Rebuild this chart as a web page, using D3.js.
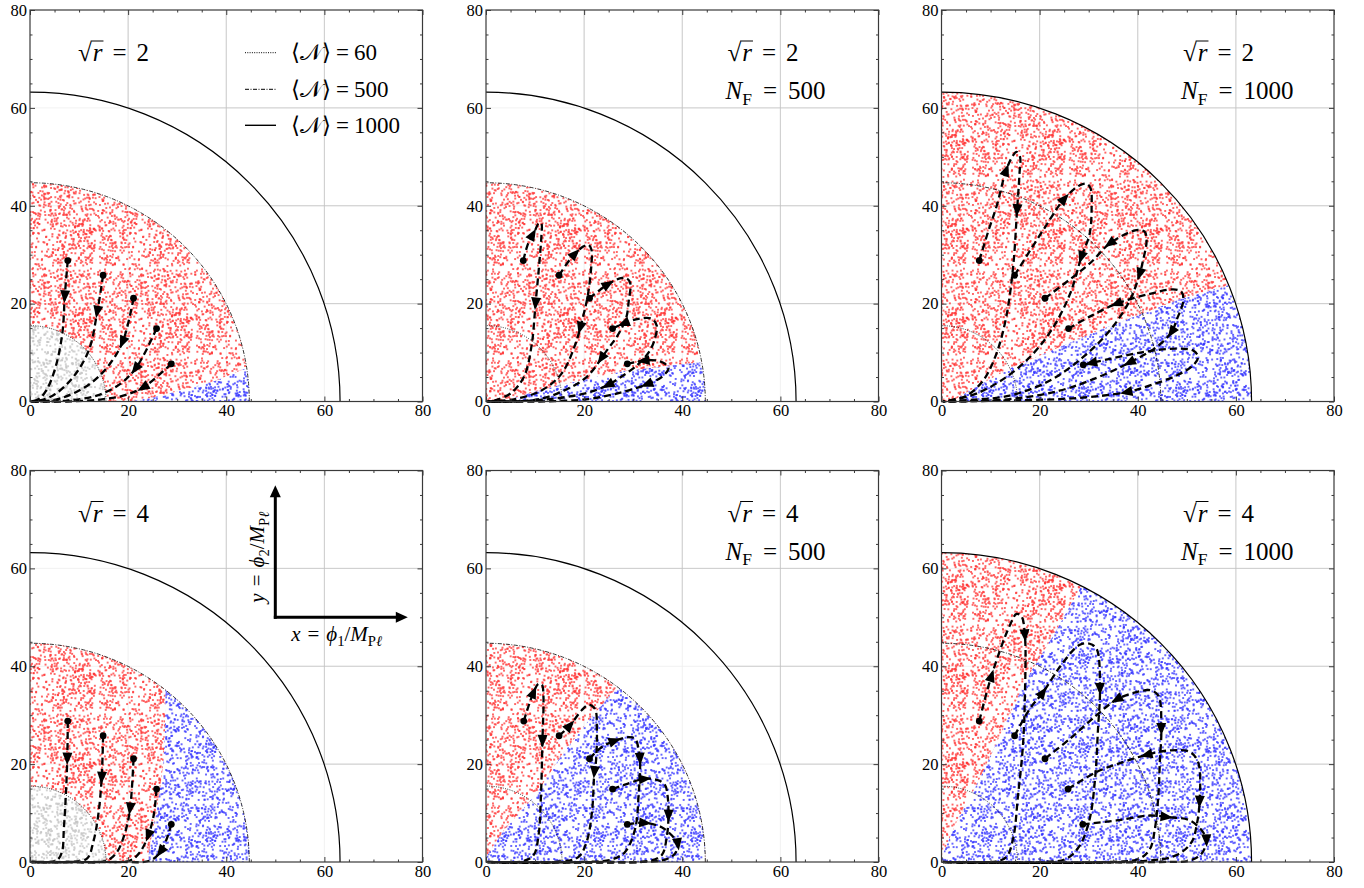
<!DOCTYPE html>
<html>
<head>
<meta charset="utf-8">
<script src="https://cdn.jsdelivr.net/npm/d3@7"></script>
<style>
  body { margin: 0; background: #fff; }
  svg text { font-family: "Liberation Serif", "Times New Roman", "DejaVu Serif", serif; }
</style>
</head>
<body>
<svg id="chart" width="1364" height="888"></svg>
<script>
// axis ticks
const ticksMajor = [0, 20, 40, 60, 80];
const ticksMinor = [5, 10, 15, 25, 30, 35, 45, 50, 55, 65, 70, 75];

// reference circles: <N> = 60, 500, 1000
const circleRadii = [15.5, 44.7, 63.2];
const legendN = ['60', '500', '1000'];

// panel settings (row major)
const sqrtR = [2, 2, 2, 4, 4, 4];
const nF = [null, 500, 1000, null, 500, 1000];
const outerRadius = [44.7, 44.7, 63.2, 44.7, 44.7, 63.2];
const grayRadius = [15.5, 0, 0, 15.5, 0, 0];

// red / blue split line, blue lies below-right of it
const blueEdgeTL = [[20, 0], [25, 0.8], [31, 2.3], [38, 4.3], [44, 6.8], [50, 9]];
const blueEdgeTM = [[3, 0], [10, 2], [15.4, 3.4], [22, 4.9], [28, 6.2], [38, 7.4], [44, 8], [52, 9]];
const blueEdgeTR = [[2, 0], [8, 3.5], [14, 6.8], [32, 14.5], [48, 20.7], [60, 24.2], [70, 27]];
const blueEdgeBL = [[23.8, -1], [24.8, 5.4], [25.8, 10.2], [26.5, 15], [27.2, 20.4], [27.5, 27], [27.6, 34], [27.8, 50]];
const blueEdgeBM = [[0, 1], [3.9, 6.8], [10, 13.6], [15.4, 21.8], [21, 29], [27, 36], [34, 45]];
const blueEdgeBR = [[0, 1], [3.1, 8.2], [7.8, 17], [13.2, 28.6], [17.3, 37.4], [22.8, 46.3], [28.5, 56.4], [33, 65]];

// trajectories (first point = start dot)
const trajTL = [
  [[7.7, 28.8], [7.1, 21.7], [6.6, 14], [5.2, 7], [3.4, 2.4], [1.8, 0.5], [0.3, 0]],
  [[14.9, 25.8], [13.7, 18.3], [12, 10.5], [8.8, 5], [4.8, 1.3], [1.5, 0.1], [0.3, 0]],
  [[21.1, 21.1], [19, 12.5], [16.3, 7.7], [12.2, 3.6], [6.1, 0.6], [1.5, 0], [0.3, 0]],
  [[25.8, 14.9], [21.7, 7], [18.4, 3.6], [13.6, 1.2], [7.5, 0.2], [1.5, 0], [0.3, 0]],
  [[28.8, 7.7], [23.1, 2.9], [19, 1.2], [14.3, 0.4], [7.5, 0], [0.3, 0]]
];
const trajTM = [
  [[7.6, 28.8], [8.6, 32.3], [10, 35], [10.8, 36.5], [11.3, 36.3], [11.3, 34], [10.8, 27.5], [10.1, 20], [9.3, 11.5], [7.8, 5.2], [5.2, 1.8], [2, 0.3], [0.3, 0]],
  [[14.9, 25.8], [17.5, 29.5], [19.9, 31.7], [20.9, 32], [21.5, 31], [21.5, 28.2], [20.8, 22], [19.6, 16.6], [18, 11.1], [15.4, 5.7], [11.4, 2.3], [5.9, 0.5], [0.3, 0]],
  [[21.1, 21.1], [24.9, 24], [27.5, 25.2], [28.6, 25.2], [29.4, 24.2], [29.1, 20.6], [28.6, 17.2], [27, 13.8], [24.6, 10.4], [20.5, 5], [15.8, 2.2], [11, 0.5], [5, 0], [0.3, 0]],
  [[25.8, 14.9], [28, 15.9], [31.1, 16.9], [33.8, 16.9], [34.8, 15.5], [34.5, 13.1], [33.4, 10.4], [31, 7.6], [27.5, 5], [24.5, 3.2], [20, 1.6], [12, 0.4], [4, 0], [0.3, 0]],
  [[28.8, 7.7], [32, 8.3], [34.5, 8.4], [36.5, 7.7], [37.2, 6.8], [35.8, 5], [33, 3.6], [27.7, 1.9], [20.9, 0.5], [10.7, 0], [0.3, 0]]
];
const trajTR = [
  [[7.7, 28.8], [9.6, 35], [11.2, 39.8], [13.2, 47.3], [14.6, 50.3], [15.3, 51], [16, 50], [15.9, 46.6], [15.4, 39.1], [14.6, 27.5], [13.2, 17.3], [11.2, 9.8], [8.5, 4.3], [5.1, 1.2], [1.5, 0.2], [0.3, 0]],
  [[14.9, 25.8], [20.7, 35], [25.1, 41.5], [28.2, 44.2], [29.6, 44.5], [30.4, 43.5], [30.6, 39.8], [30.2, 34.3], [28.5, 29.5], [26.2, 22], [22.8, 15.2], [18.7, 9.8], [13.2, 5], [7.1, 1.6], [1.7, 0.2], [0.3, 0]],
  [[21.1, 21.1], [30.2, 28.2], [34.3, 32.3], [39.7, 35], [41.4, 34.7], [41.8, 32.9], [41.1, 28.9], [40.4, 26.1], [38.4, 20.7], [34.3, 14.5], [28.9, 9.1], [22.1, 4.3], [13.9, 1.2], [3.7, 0.2], [0.3, 0]],
  [[25.9, 14.9], [30.5, 17.5], [35.7, 20], [42.5, 22], [47.2, 22.9], [48.9, 22.4], [49.3, 20.7], [47.9, 16.6], [46.9, 14.2], [43.8, 11.1], [38.4, 8], [32, 5], [24, 2.2], [14, 0.5], [3, 0], [0.3, 0]],
  [[28.9, 7.5], [34.3, 8.7], [41.1, 10.1], [47.9, 10.8], [51.3, 10.4], [52.3, 9.1], [51.3, 7.4], [47.9, 5.3], [42.5, 3.3], [37.7, 1.9], [27.5, 0.7], [13.9, 0.2], [0.3, 0]]
];
const trajBL = [
  [[7.7, 28.8], [7.6, 21.1], [7.3, 13.6], [6.9, 6.8], [6.5, 2], [5.4, 0.3], [2, 0], [0.3, 0]],
  [[14.9, 25.8], [14.6, 17], [13.9, 9.5], [12.9, 4.1], [11.6, 0.7], [7.5, 0], [0.3, 0]],
  [[21.1, 21.1], [20.4, 10.9], [19.4, 6.1], [17.7, 2], [15.6, 0.3], [7.5, 0], [0.3, 0]],
  [[25.8, 14.9], [25.2, 9.5], [24.1, 5.4], [22.4, 2], [20.4, 0.3], [14.3, 0], [0.3, 0]],
  [[28.8, 7.7], [27.9, 4.8], [26.5, 2], [24.5, 0.3], [17.7, 0], [0.3, 0]]
];
const trajBM = [
  [[7.7, 28.8], [9.7, 34.7], [10.7, 36.4], [11.4, 36.2], [11.7, 34], [11.5, 24.7], [11.2, 13.6], [10.7, 5.4], [9.7, 1.4], [7.3, 0.1], [0.3, 0]],
  [[14.9, 25.8], [17.1, 27.9], [19.5, 31], [20.9, 32.1], [22.2, 31.3], [22.6, 27.2], [22.4, 20.4], [22.1, 18.4], [21.6, 10.2], [20.5, 4.1], [18.8, 1], [14, 0], [0.3, 0]],
  [[21.1, 21.1], [23.6, 23.5], [26.3, 24.8], [29, 25.5], [30.4, 25.2], [31.1, 23.1], [31.4, 21.1], [31.1, 13.6], [30.4, 6.8], [28.3, 2], [25.6, 0.5], [19.5, 0], [0.3, 0]],
  [[25.8, 14.9], [28.3, 15.8], [32.4, 17], [35.1, 16.7], [36.5, 15.7], [37, 13.6], [37.2, 9.5], [36.8, 4.8], [35.8, 1.4], [33.1, 0.2], [24.3, 0], [0.3, 0]],
  [[28.8, 7.7], [32.4, 8], [35.8, 7.1], [37.9, 5.4], [39.1, 3.7], [38.5, 1.7], [36.5, 0.5], [31.1, 0], [0.3, 0]]
];
const trajBR = [
  [[7.7, 28.8], [10.2, 38.1], [13.9, 48.3], [15.3, 50.7], [16.3, 50.2], [17, 46.3], [17, 34], [16.6, 23.8], [15.6, 13.6], [14.6, 4.8], [13.2, 1], [10.5, 0], [0.3, 0]],
  [[14.9, 25.8], [18, 31.3], [20.7, 34.7], [24.8, 40.8], [28.2, 44.4], [30.2, 44.6], [31.6, 43.6], [32.3, 35.4], [31.9, 27.2], [31.3, 17], [30.2, 8.8], [28.2, 3.4], [25.5, 0.7], [20.7, 0], [0.3, 0]],
  [[21.1, 21.1], [26.2, 25.2], [31.6, 30], [35.7, 33.2], [39.7, 34.7], [42.5, 35.1], [44.2, 34], [44.8, 27.2], [44.5, 20.4], [44.2, 13.6], [43.5, 6.8], [42.5, 2.7], [40.4, 0.7], [34.3, 0], [0.3, 0]],
  [[25.8, 14.9], [31.6, 18.4], [37, 20.4], [41.8, 21.9], [46.5, 22.8], [50.6, 22.5], [52.3, 20.4], [52.6, 12.3], [52, 7.5], [51, 4.1], [47.9, 1.4], [41.1, 0.2], [0.3, 0]],
  [[28.8, 7.7], [35.7, 8.5], [42.5, 9.5], [45.9, 9.2], [50.6, 8.5], [53.3, 6.1], [54, 4.4], [53, 1.7], [50.6, 0.3], [44.5, 0], [0.3, 0]]
];

// arrowheads: [x, y, trajectory index, direction (+1 along, -1 against)]
const arrowsTL = [[7.1, 21.5, 0, 1], [13.7, 18.3, 1, 1], [18.7, 12.1, 2, 1], [21.4, 6.7, 3, 1], [23, 2.9, 4, 1]];
const arrowsTM = [[9.3, 34.3, 0, 1], [10, 20, 0, 1], [18.2, 30.2, 1, 1], [18.8, 15.2, 1, 1], [24.9, 24, 2, 1], [23.6, 8.7, 2, 1],
  [28, 15.9, 3, -1], [24.9, 3.3, 3, 1], [32.1, 8.3, 4, -1], [32.8, 3.6, 4, 1]];
const arrowsTR = [[13.2, 47.3, 0, 1], [15.4, 39.1, 0, 1], [25.1, 41.5, 1, 1], [28.5, 29.5, 1, 1], [34.3, 32.3, 2, -1], [40.4, 26.1, 2, 1],
  [35.7, 20, 3, -1], [46.9, 14.2, 3, 1], [37.7, 9.0, 3, 1], [30.5, 7.9, 4, -1], [37.7, 1.9, 4, 1]];
const arrowsBL = [[7.6, 21.1, 0, 1], [14.6, 17.2, 1, 1], [20.4, 10.9, 2, 1], [24.1, 5.4, 3, 1], [26.5, 2.2, 4, 1]];
const arrowsBM = [[9.7, 34.7, 0, 1], [11.5, 24.7, 0, 1], [17.1, 27.9, 1, 1], [22.1, 18.4, 1, 1], [26.3, 24.8, 2, 1], [31.4, 21.1, 2, 1],
  [32.4, 17, 3, 1], [37.2, 9.5, 3, 1], [32.4, 8, 4, 1], [39.1, 3.7, 4, 1]];
const arrowsBR = [[10.2, 38.1, 0, 1], [17, 46.3, 0, 1], [20.7, 34.7, 1, 1], [32.3, 35.4, 1, 1], [35.7, 33.2, 2, -1], [44.8, 27.2, 2, 1],
  [41.8, 21.9, 3, -1], [52.6, 12.3, 3, 1], [45.9, 9.2, 4, 1], [54, 4.4, 4, 1]];

const blueEdges = [blueEdgeTL, blueEdgeTM, blueEdgeTR, blueEdgeBL, blueEdgeBM, blueEdgeBR];
const trajectories = [trajTL, trajTM, trajTR, trajBL, trajBM, trajBR];
const arrowMarks = [arrowsTL, arrowsTM, arrowsTR, arrowsBL, arrowsBM, arrowsBR];

// layout
const colX = [30, 486, 941.5];
const rowY = [10, 470.5];
const pw = 392.5, ph = 391.5;
const serif = '"Liberation Serif", "Times New Roman", "DejaVu Serif", serif';

const svg = d3.select('#chart').attr('font-family', serif);
const defs = svg.append('defs');

// scattered-dot textures
function dotPattern(id, color, opacity, seed) {
  const tw = 97, th = 89, n = 760, sz = 1.95;
  const p = defs.append('pattern').attr('id', id)
    .attr('patternUnits', 'userSpaceOnUse').attr('width', tw).attr('height', th);
  const h = k => { const s = Math.sin(k * 12.9898 + seed * 78.233) * 43758.5453; return s - Math.floor(s); };
  for (let k = 0; k < n; k++) {
    p.append('rect').attr('x', h(2 * k) * (tw - sz)).attr('y', h(2 * k + 1) * (th - sz))
      .attr('width', sz).attr('height', sz).attr('fill', color).attr('fill-opacity', opacity);
  }
}
dotPattern('dots-red', '#ff3434', 0.75, 1);
dotPattern('dots-blue', '#3434ff', 0.75, 2);
dotPattern('dots-gray', '#c4c4c4', 0.75, 3);

function ring(x, y, r) {
  const cx = x(0), cy = y(0), rx = x(r) - x(0), ry = y(0) - y(r);
  return `M${cx + rx},${cy}A${rx},${ry} 0 1 0 ${cx - rx},${cy}A${rx},${ry} 0 1 0 ${cx + rx},${cy}Z`;
}

// parts: [text, style, extra dx]; style 'i' italic, 'r' roman, 'sub' / 'subi' subscript
function mathText(g, x, y, parts, fs) {
  const t = g.append('text').attr('x', x).attr('y', y).attr('font-size', fs)
    .attr('font-family', serif).attr('fill', '#000');
  let shifted = 0;
  parts.forEach(([s, st, dx]) => {
    const sp = t.append('tspan').text(s);
    const sub = st.startsWith('sub');
    const dy = sub ? fs * 0.22 : 0;
    if (dy !== shifted) sp.attr('dy', dy - shifted);
    if (dx) sp.attr('dx', dx);
    shifted = dy;
    if (sub) sp.attr('font-size', fs * 0.7);
    if (st.endsWith('i')) sp.attr('font-style', 'italic');
  });
  return t;
}

function sqrtLabel(g, x, y, val, fs) {
  const t = mathText(g, x, y, [['√', 'r'], ['r', 'i', 1], ['=', 'r', 10], [val, 'r', 10]], fs);
  const e0 = t.node().getExtentOfChar(0), e1 = t.node().getExtentOfChar(1);
  g.append('line')
    .attr('x1', e0.x + e0.width * 0.92).attr('x2', e1.x + e1.width + 1)
    .attr('y1', y - fs * 0.8).attr('y2', y - fs * 0.8)
    .attr('stroke', '#000').attr('stroke-width', 1);
}

d3.range(6).forEach(i => {
  const x0 = colX[i % 3], y0 = rowY[Math.floor(i / 3)];
  const x = d3.scaleLinear().domain([0, 80]).range([x0, x0 + pw]);
  const y = d3.scaleLinear().domain([0, 80]).range([y0 + ph, y0]);
  const g = svg.append('g');

  const clip = (id, d, rule) => defs.append('clipPath').attr('id', id)
    .append('path').attr('d', d).attr('clip-rule', rule || 'nonzero');
  const rectD = `M${x0},${y0}h${pw}v${ph}h${-pw}Z`;
  clip(`plot-${i}`, rectD);
  clip(`outside-${i}`, rectD + ring(x, y, circleRadii[2]), 'evenodd');
  clip(`ann-${i}`, ring(x, y, outerRadius[i]) + (grayRadius[i] ? ring(x, y, grayRadius[i]) : ''), 'evenodd');
  const edge = blueEdges[i];
  const bluePoly = edge.concat([[100, -10], [edge[0][0], -10]]);
  clip(`blue-${i}`, d3.line().x(d => x(d[0])).y(d => y(d[1]))(bluePoly) + 'Z');

  // grid
  const grid = [20, 40, 60];
  const drawGrid = (sel, color) => {
    sel.selectAll('line.v').data(grid).join('line').attr('class', 'v')
      .attr('x1', d => x(d)).attr('x2', d => x(d)).attr('y1', y(0)).attr('y2', y(80));
    sel.selectAll('line.h').data(grid).join('line').attr('class', 'h')
      .attr('y1', d => y(d)).attr('y2', d => y(d)).attr('x1', x(0)).attr('x2', x(80));
    sel.selectAll('line').attr('stroke', color).attr('stroke-width', 0.8);
  };
  drawGrid(g.append('g'), '#ededed');
  drawGrid(g.append('g').attr('clip-path', `url(#outside-${i})`), '#c2c2c2');

  // scatter regions
  if (grayRadius[i]) {
    defs.append('clipPath').attr('id', `gray-${i}`).append('path').attr('d', ring(x, y, grayRadius[i]));
    g.append('g').attr('clip-path', `url(#gray-${i})`)
      .append('rect').attr('x', x0).attr('y', y0).attr('width', pw).attr('height', ph).attr('fill', 'url(#dots-gray)');
  }
  const ann = g.append('g').attr('clip-path', `url(#ann-${i})`);
  ann.append('g').attr('clip-path', `url(#plot-${i})`)
    .append('rect').attr('x', x0).attr('y', y0).attr('width', pw).attr('height', ph).attr('fill', 'url(#dots-red)');
  const blue = ann.append('g').attr('clip-path', `url(#blue-${i})`).append('g').attr('clip-path', `url(#plot-${i})`);
  blue.append('rect').attr('x', x0).attr('y', y0).attr('width', pw).attr('height', ph).attr('fill', '#fff');
  blue.append('rect').attr('x', x0).attr('y', y0).attr('width', pw).attr('height', ph).attr('fill', 'url(#dots-blue)');

  // <N> circles
  const circStyle = [{ dash: '1,1.3', w: 0.8 }, { dash: '4,1.5,1,1.5', w: 0.8 }, { dash: null, w: 1.2 }];
  g.append('g').attr('clip-path', `url(#plot-${i})`).selectAll('path').data(circleRadii).join('path')
    .attr('d', r => ring(x, y, r)).attr('fill', 'none').attr('stroke', '#000')
    .attr('stroke-width', (r, k) => circStyle[k].w).attr('stroke-dasharray', (r, k) => circStyle[k].dash);

  // trajectories
  const line = d3.line().x(d => x(d[0])).y(d => y(d[1])).curve(d3.curveCatmullRom.alpha(0.5));
  const tg = g.append('g');
  const paths = tg.selectAll('path.traj').data(trajectories[i]).join('path').attr('class', 'traj')
    .attr('d', line).attr('fill', 'none').attr('stroke', '#000')
    .attr('stroke-width', 2.3).attr('stroke-dasharray', '7,4');
  tg.selectAll('circle').data(trajectories[i]).join('circle')
    .attr('cx', d => x(d[0][0])).attr('cy', d => y(d[0][1])).attr('r', 3.4).attr('fill', '#000');
  arrowMarks[i].forEach(([ax, ay, k, dir]) => {
    const node = paths.nodes()[k], len = node.getTotalLength();
    const px = x(ax), py = y(ay);
    let best = 0, bd = Infinity;
    for (let s = 0; s <= len; s += 0.5) {
      const p = node.getPointAtLength(s), dd = (p.x - px) ** 2 + (p.y - py) ** 2;
      if (dd < bd) { bd = dd; best = s; }
    }
    const pa = node.getPointAtLength(Math.max(0, best - 2)), pb = node.getPointAtLength(Math.min(len, best + 2));
    const p = node.getPointAtLength(best);
    let ang = Math.atan2(pb.y - pa.y, pb.x - pa.x) * 180 / Math.PI;
    if (dir < 0) ang += 180;
    tg.append('path').attr('d', 'M6.5,0L-6,-5L-6,5Z').attr('fill', '#000')
      .attr('transform', `translate(${p.x},${p.y}) rotate(${ang})`);
  });

  // frame and ticks
  const styleAxis = sel => {
    sel.select('.domain').remove();
    sel.selectAll('line').attr('stroke', '#3a3a3a');
    sel.attr('font-family', serif).attr('font-size', 16.5);
    sel.selectAll('text').attr('fill', '#000');
  };
  const axes = [
    [d3.axisLeft(y), `translate(${x0},0)`, true],
    [d3.axisBottom(x), `translate(0,${y0 + ph})`, true],
    [d3.axisRight(y), `translate(${x0 + pw},0)`, false],
    [d3.axisTop(x), `translate(0,${y0})`, false]
  ];
  axes.forEach(([ax, tr, labels]) => {
    g.append('g').attr('transform', tr)
      .call(ax.tickValues(ticksMinor).tickSizeInner(-2.5).tickSizeOuter(0).tickFormat(''))
      .call(styleAxis);
    g.append('g').attr('transform', tr)
      .call(ax.tickValues(ticksMajor).tickSizeInner(-5).tickSizeOuter(0).tickPadding(labels ? 3 : 0)
        .tickFormat(labels ? d3.format('d') : ''))
      .call(styleAxis);
  });
  g.append('rect').attr('x', x0).attr('y', y0).attr('width', pw).attr('height', ph)
    .attr('fill', 'none').attr('stroke', '#3a3a3a').attr('stroke-width', 1.2);

  // annotations
  const fs = 25;
  if (nF[i] === null) {
    sqrtLabel(g, x0 + 48, y0 + 51, sqrtR[i], fs);
  } else {
    sqrtLabel(g, x0 + 241.5, y0 + 51, sqrtR[i], fs);
    mathText(g, x0 + 239.5, y0 + 89, [['N', 'i'], ['F', 'sub'], ['=', 'r', 11], [String(nF[i]), 'r', 11]], fs);
  }

  // legend (top-left panel)
  if (i === 0) {
    const ly = [52.7, 89.3, 125.3];
    legendN.forEach((n, k) => {
      g.append('line').attr('x1', x0 + 215).attr('x2', x0 + 246).attr('y1', ly[k]).attr('y2', ly[k])
        .attr('stroke', '#000').attr('stroke-width', circStyle[k].w + 0.2)
        .attr('stroke-dasharray', circStyle[k].dash);
      mathText(g, x0 + 261, ly[k] + 7.5, [['⟨', 'r'], ['𝒩', 'r'], ['⟩', 'r'], ['=', 'r', 5], [n, 'r', 5]], 23);
    });
  }

  // field-direction key (bottom-left panel)
  if (i === 3) {
    const cx = x(50), cy = y(50), tipY = y(77), tipX = x(77);
    g.append('line').attr('x1', cx).attr('y1', cy + 1.5).attr('x2', cx).attr('y2', tipY + 10)
      .attr('stroke', '#000').attr('stroke-width', 3);
    g.append('line').attr('x1', cx - 1.5).attr('y1', cy).attr('x2', tipX - 10).attr('y2', cy)
      .attr('stroke', '#000').attr('stroke-width', 3);
    g.append('path').attr('d', `M${cx},${tipY}l-5.5,12h11Z`).attr('fill', '#000');
    g.append('path').attr('d', `M${tipX},${cy}l-12,-5.5v11Z`).attr('fill', '#000');
    const keyParts = v => [[v, 'i'], ['=', 'r', 7], ['ϕ', 'i', 7], [v === 'x' ? '1' : '2', 'sub'], ['/', 'r'], ['M', 'i'], ['P', 'sub'], ['ℓ', 'subi']];
    const yl = g.append('g').attr('transform', `translate(${x(46.5) + 6},${y(62.3)}) rotate(-90)`);
    mathText(yl, 0, 0, keyParts('y'), 21).attr('text-anchor', 'middle');
    mathText(g, x(62.5), y(46.3) + 6, keyParts('x'), 21).attr('text-anchor', 'middle');
  }
});
</script>
</body>
</html>
